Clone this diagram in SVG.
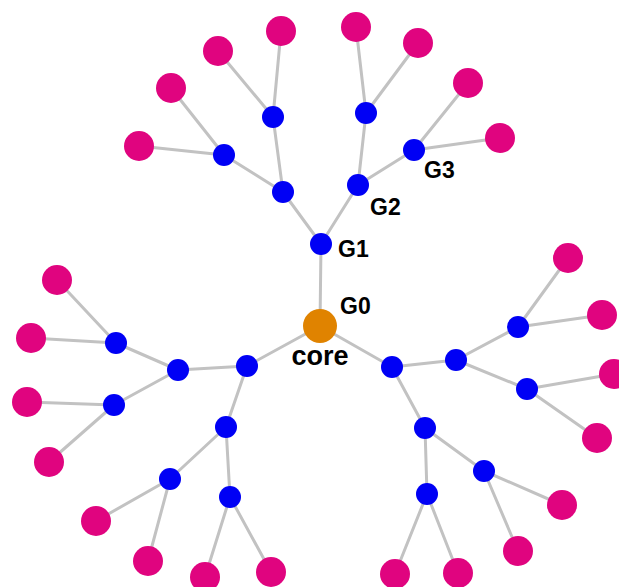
<svg xmlns="http://www.w3.org/2000/svg" width="619" height="587" viewBox="0 0 619 587">
<style>
.e{stroke:#c2c2c2;stroke-width:3;fill:none}
.b{fill:#0000f5}
.l{fill:#e0047f}
.c{fill:#e08300}
.t{font-family:"Liberation Sans",Arial,sans-serif;font-weight:bold;font-size:23px;fill:#000}
.tc{font-size:27px}
</style>
<rect width="619" height="587" fill="#fff"/>
<g id="connectors">
<path class="e" d="M320 326L321 244M321 244L283 192M321 244L358 185M283 192L224 155M283 192L273 117M224 155L139 146M224 155L171 88M273 117L218 51M273 117L281 31M358 185L366 113M358 185L414 150M366 113L356 27M366 113L418 43M414 150L468 83M414 150L500 138"/>
<path class="e" d="M320 326L247 366M247 366L178 370M247 366L226 427M178 370L116 343M178 370L114 405M116 343L57 280M116 343L31 338M114 405L27 402M114 405L49 462M226 427L170 479M226 427L230 497M170 479L96 521M170 479L148 561M230 497L205 577M230 497L271 572"/>
<path class="e" d="M320 326L392 367M392 367L456 360M392 367L425 428M456 360L518 327M456 360L527 389M518 327L568 258M518 327L602 315M527 389L614 374M527 389L597 438M425 428L484 471M425 428L427 494M484 471L562 505M484 471L518 551M427 494L395 574M427 494L458 573"/>
</g>
<g id="core"><circle class="c" cx="320" cy="326" r="17"/><text class="t" x="340" y="314">G0</text><text class="t tc" x="320" y="365" text-anchor="middle">core</text></g>
<g id="g1-top"><circle class="b" cx="321" cy="244" r="11"/><text class="t" x="338" y="257">G1</text></g>
<g id="g2-top-l"><circle class="b" cx="283" cy="192" r="11"/></g>
<g id="g2-top-r"><circle class="b" cx="358" cy="185" r="11"/><text class="t" x="370" y="215">G2</text></g>
<g id="g3-top-ll"><circle class="b" cx="224" cy="155" r="11"/></g>
<g id="g3-top-lr"><circle class="b" cx="273" cy="117" r="11"/></g>
<g id="g3-top-rl"><circle class="b" cx="366" cy="113" r="11"/></g>
<g id="g3-top-rr"><circle class="b" cx="414" cy="150" r="11"/><text class="t" x="424" y="178">G3</text></g>
<g id="leaf-t1"><circle class="l" cx="139" cy="146" r="15"/></g>
<g id="leaf-t2"><circle class="l" cx="171" cy="88" r="15"/></g>
<g id="leaf-t3"><circle class="l" cx="218" cy="51" r="15"/></g>
<g id="leaf-t4"><circle class="l" cx="281" cy="31" r="15"/></g>
<g id="leaf-t5"><circle class="l" cx="356" cy="27" r="15"/></g>
<g id="leaf-t6"><circle class="l" cx="418" cy="43" r="15"/></g>
<g id="leaf-t7"><circle class="l" cx="468" cy="83" r="15"/></g>
<g id="leaf-t8"><circle class="l" cx="500" cy="138" r="15"/></g>
<g id="g1-left"><circle class="b" cx="247" cy="366" r="11"/></g>
<g id="g2-left-a"><circle class="b" cx="178" cy="370" r="11"/></g>
<g id="g2-left-b"><circle class="b" cx="226" cy="427" r="11"/></g>
<g id="g3-left-a1"><circle class="b" cx="116" cy="343" r="11"/></g>
<g id="g3-left-a2"><circle class="b" cx="114" cy="405" r="11"/></g>
<g id="g3-left-b1"><circle class="b" cx="170" cy="479" r="11"/></g>
<g id="g3-left-b2"><circle class="b" cx="230" cy="497" r="11"/></g>
<g id="leaf-l1"><circle class="l" cx="57" cy="280" r="15"/></g>
<g id="leaf-l2"><circle class="l" cx="31" cy="338" r="15"/></g>
<g id="leaf-l3"><circle class="l" cx="27" cy="402" r="15"/></g>
<g id="leaf-l4"><circle class="l" cx="49" cy="462" r="15"/></g>
<g id="leaf-l5"><circle class="l" cx="96" cy="521" r="15"/></g>
<g id="leaf-l6"><circle class="l" cx="148" cy="561" r="15"/></g>
<g id="leaf-l7"><circle class="l" cx="205" cy="577" r="15"/></g>
<g id="leaf-l8"><circle class="l" cx="271" cy="572" r="15"/></g>
<g id="g1-right"><circle class="b" cx="392" cy="367" r="11"/></g>
<g id="g2-right-a"><circle class="b" cx="456" cy="360" r="11"/></g>
<g id="g2-right-b"><circle class="b" cx="425" cy="428" r="11"/></g>
<g id="g3-right-a1"><circle class="b" cx="518" cy="327" r="11"/></g>
<g id="g3-right-a2"><circle class="b" cx="527" cy="389" r="11"/></g>
<g id="g3-right-b1"><circle class="b" cx="484" cy="471" r="11"/></g>
<g id="g3-right-b2"><circle class="b" cx="427" cy="494" r="11"/></g>
<g id="leaf-r1"><circle class="l" cx="568" cy="258" r="15"/></g>
<g id="leaf-r2"><circle class="l" cx="602" cy="315" r="15"/></g>
<g id="leaf-r3"><circle class="l" cx="614" cy="374" r="15"/></g>
<g id="leaf-r4"><circle class="l" cx="597" cy="438" r="15"/></g>
<g id="leaf-r5"><circle class="l" cx="562" cy="505" r="15"/></g>
<g id="leaf-r6"><circle class="l" cx="518" cy="551" r="15"/></g>
<g id="leaf-r7"><circle class="l" cx="395" cy="574" r="15"/></g>
<g id="leaf-r8"><circle class="l" cx="458" cy="573" r="15"/></g>
</svg>
